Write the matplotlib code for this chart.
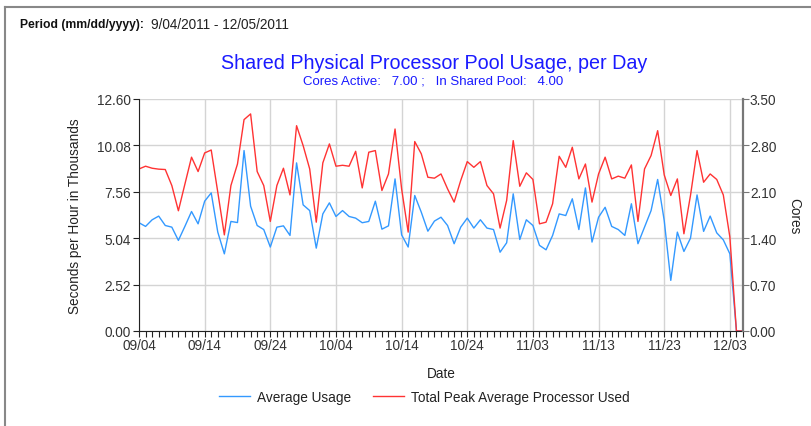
import numpy as np
import pandas as pd
import matplotlib
matplotlib.use('Agg')
import matplotlib.pyplot as plt
import matplotlib.dates as mdates
from matplotlib.lines import Line2D

plt.rcParams['font.family'] = ['Liberation Sans', 'DejaVu Sans']

# daily values, 9/04/2011 .. 12/05/2011 (seconds per hour, thousands)
dates = pd.date_range('2011-09-04', '2011-12-05', freq='D')

avg_usage = [
    5.88, 5.68, 6.04, 6.24, 5.73, 5.64, 4.92, 5.69, 6.49, 5.82,
    7.05, 7.50, 5.37, 4.19, 5.95, 5.89, 9.80, 6.78, 5.73, 5.51,
    4.56, 5.64, 5.71, 5.19, 9.13, 6.85, 6.54, 4.50, 6.36, 6.96,
    6.22, 6.54, 6.22, 6.13, 5.88, 5.95, 7.05, 5.53, 5.71, 8.26,
    5.22, 4.56, 7.36, 6.45, 5.42, 5.97, 6.18, 5.73, 4.74, 5.64,
    6.13, 5.59, 6.04, 5.59, 5.51, 4.28, 4.79, 7.45, 4.97, 6.04,
    5.73, 4.65, 4.41, 5.19, 6.36, 6.27, 7.18, 5.51, 7.77, 4.83,
    6.18, 6.72, 5.68, 5.51, 5.19, 6.91, 4.74, 5.64, 6.54, 8.23,
    6.00, 2.75, 5.37, 4.32, 5.04, 7.39, 5.41, 6.24, 5.33, 4.95,
    4.19, 0.00, 0.00,
]

peak_used = [
    8.80, 8.95, 8.84, 8.79, 8.77, 7.90, 6.53, 7.99, 9.44, 8.66,
    9.67, 9.83, 7.54, 5.22, 7.90, 9.07, 11.48, 11.79, 8.66, 7.90,
    5.95, 7.90, 8.84, 7.39, 11.15, 10.07, 8.80, 5.91, 9.13, 10.16,
    8.95, 9.00, 8.95, 9.76, 7.77, 9.71, 9.80, 7.63, 8.53, 10.97,
    7.72, 5.37, 10.29, 9.62, 8.35, 8.30, 8.53, 7.72, 7.00, 8.17,
    9.20, 8.89, 9.20, 7.90, 7.45, 5.59, 7.09, 10.34, 7.86, 8.59,
    8.23, 5.82, 5.91, 6.91, 9.49, 8.89, 9.98, 8.26, 9.07, 7.00,
    8.53, 9.44, 8.26, 8.41, 8.30, 9.02, 5.95, 8.80, 9.53, 10.88,
    8.48, 7.36, 8.26, 5.28, 7.36, 9.80, 8.08, 8.53, 8.23, 7.39,
    5.10, 0.00, 0.00,
]

left_ticks = [0.00, 2.52, 5.04, 7.56, 10.08, 12.60]
right_ticks = [0.00, 0.70, 1.40, 2.10, 2.80, 3.50]

blue = '#3399ff'
red = '#ff3333'
tick_col = '#333333'

fig = plt.figure(figsize=(8.11, 4.27), dpi=100)
ax = fig.add_axes([139/811, 1 - 332/427, (743 - 139)/811, (332 - 100)/427])

ax.plot(dates, avg_usage, color=blue, lw=1.0)
ax.plot(dates, peak_used, color=red, lw=1.0)

ax.set_xlim(dates[0], dates[-1])
ax.set_ylim(0, 12.6)
ax.set_yticks(left_ticks)
ax.set_yticklabels([f'{v:.2f}' for v in left_ticks])
ax.set_xticks(dates[::10])
ax.xaxis.set_major_formatter(mdates.DateFormatter('%m/%d'))
ax.set_xticks(dates, minor=True)

ax.grid(True, color='#d4d4d4', lw=1.0)
ax.set_axisbelow(True)
for s in ['top', 'right']:
    ax.spines[s].set_visible(False)
ax.spines['left'].set_color('#222222')
ax.spines['bottom'].set_color('#222222')
ax.tick_params(axis='both', which='both', direction='out', length=4,
               width=0.8, color='#222222', labelsize=9.8, labelcolor=tick_col)
ax.tick_params(axis='x', pad=1)
ax.tick_params(axis='y', pad=2)

ax2 = ax.twinx()
ax2.set_ylim(0, 3.5)
ax2.set_yticks(right_ticks)
ax2.set_yticklabels([f'{v:.2f}' for v in right_ticks])
for s in ['top', 'left', 'bottom']:
    ax2.spines[s].set_visible(False)
ax2.spines['right'].set_color('#777777')
ax2.spines['right'].set_linewidth(1.6)
ax2.tick_params(axis='y', direction='out', length=4, width=0.8, pad=1,
                color='#777777', labelsize=9.8, labelcolor=tick_col)

ax.set_xlabel('Date', fontsize=9.8, color='#222222', labelpad=10)
ax.set_ylabel('Seconds per Hour in Thousands', fontsize=9.8, color='#222222', labelpad=11)
ax2.set_ylabel('Cores', fontsize=9.8, color='#222222', rotation=-90, labelpad=18)

# header texts
fig.text(20/811, 1 - 25/427, 'Period (mm/dd/yyyy):', fontsize=8.7, fontweight='bold',
         color='#111111', va='center', ha='left')
fig.text(151/811, 1 - 25/427, '9/04/2011 - 12/05/2011', fontsize=9.8,
         color='#222222', va='center', ha='left')
fig.text(434/811, 1 - 64/427, 'Shared Physical Processor Pool Usage, per Day',
         fontsize=14.2, color='#1a1aff', ha='center', va='center')
fig.text(433/811, 1 - 82/427, 'Cores Active:   7.00 ;   In Shared Pool:   4.00',
         fontsize=9.5, color='#1a1aff', ha='center', va='center')

handles = [Line2D([], [], color=blue, lw=1.0), Line2D([], [], color=red, lw=1.0)]
fig.legend(handles, ['Average Usage', 'Total Peak Average Processor Used'],
           loc='center', bbox_to_anchor=(424/811, 1 - 398/427), ncol=2,
           frameon=False, fontsize=9.8, handlelength=2.3, handletextpad=0.5,
           columnspacing=1.6, labelcolor='#222222')

# outer frame (top and left edges)
fig.add_artist(Line2D([5/811, 1], [1 - 8/427, 1 - 8/427], color='#888888', lw=1.5,
                      transform=fig.transFigure))
fig.add_artist(Line2D([5/811, 5/811], [0, 1 - 8/427], color='#888888', lw=1.5,
                      transform=fig.transFigure))

fig.savefig('out.png', dpi=100)
